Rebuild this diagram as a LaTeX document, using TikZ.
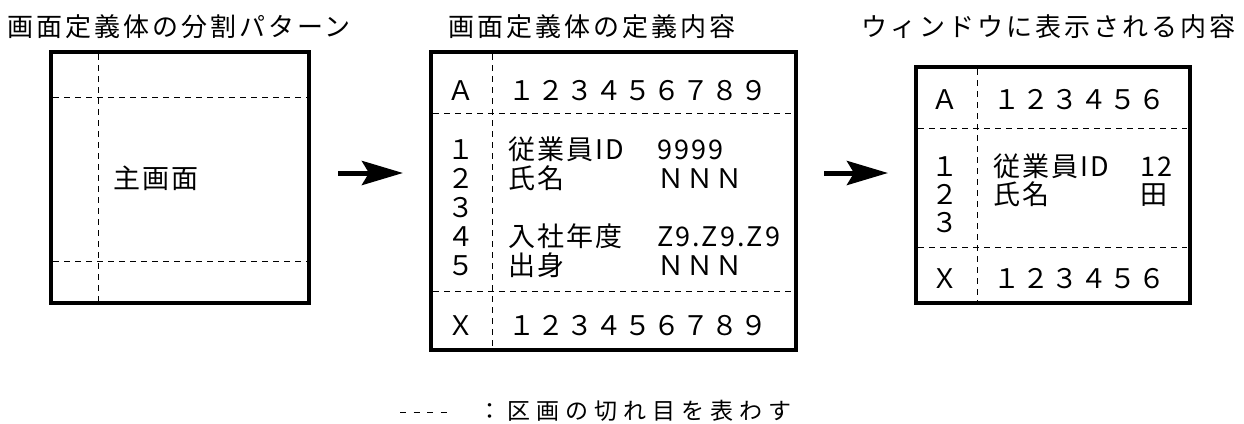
\documentclass[tikz,border=0pt]{standalone}
\usepackage{fontspec}
\usetikzlibrary{arrows.meta}
\newfontfamily\jpt{Noto Sans CJK JP}[LetterSpace=11.5]
\newfontfamily\jpb{Noto Sans CJK JP}[LetterSpace=7.4]
\newfontfamily\jpl{Noto Sans CJK JP}[LetterSpace=26]
\tikzset{
  box/.style={draw, line width=4pt, inner sep=0pt, rectangle},
  sep/.style={draw, line width=1pt, dash pattern=on 6pt off 5pt},
  ttl/.style={inner sep=0pt, anchor=west, font=\jpt\fontsize{26}{30}\selectfont, text height=22.9pt, text depth=3.1pt},
  txt/.style={inner sep=0pt, anchor=west, font=\jpb\fontsize{27}{31}\selectfont, text height=23.8pt, text depth=3.2pt},
  lbl/.style={txt, anchor=center},
  leg/.style={inner sep=0pt, anchor=west, font=\jpl\fontsize{23}{27}\selectfont, text height=20.2pt, text depth=2.8pt},
  arr/.style={line width=5pt, -{Stealth[length=41pt, width=24pt, inset=7pt]}},
}
\begin{document}
\begin{tikzpicture}[x=1pt,y=-1pt]
\useasboundingbox (0,0) rectangle (1244,423);

% titles
\node[ttl] (t1) at (7,27) {画面定義体の分割パターン};
\node[ttl] (t2) at (448,27) {画面定義体の定義内容};
\node[ttl] (t3) at (861,27) {ウィンドウに表示される内容};

% box 1
\node[box, minimum width=258pt, minimum height=251pt] (b1) at (180,177.5) {};
\draw[sep] (98,54) -- (98,301);
\draw[sep] (53,97) -- (307,97);
\draw[sep] (53,261) -- (307,261);
\node[txt] (m1) at (113,178) {主画面};

% box 2
\node[box, minimum width=365pt, minimum height=298pt] (b2) at (613.5,201) {};
\draw[sep] (492,54) -- (492,348);
\draw[sep] (433,113) -- (794,113);
\draw[sep] (433,291) -- (794,291);
\node[lbl] (b2a) at (461,90) {Ａ};
\node[txt] (b2ad) at (508,90) {１２３４５６７８９};
\node[lbl] (b2r1) at (461,149) {１};
\node[lbl] (b2r2) at (461,178) {２};
\node[lbl] (b2r3) at (461,207) {３};
\node[lbl] (b2r4) at (461,236) {４};
\node[lbl] (b2r5) at (461,265) {５};
\node[txt] (b2c1) at (508,149) {従業員ID};
\node[txt] (b2c2) at (508,178) {氏名};
\node[txt] (b2c4) at (508,236) {入社年度};
\node[txt] (b2c5) at (508,265) {出身};
\node[txt] (b2v1) at (657,149) {9999};
\node[txt] (b2v2) at (657,178) {ＮＮＮ};
\node[txt] (b2v4) at (657,236) {Z9.Z9.Z9};
\node[txt] (b2v5) at (657,265) {ＮＮＮ};
\node[lbl] (b2x) at (461,325) {Ｘ};
\node[txt] (b2xd) at (508,325) {１２３４５６７８９};

% box 3
\node[box, minimum width=273.5pt, minimum height=236pt] (b3) at (1052.75,185) {};
\draw[sep] (977,69) -- (977,301);
\draw[sep] (918,128) -- (1187,128);
\draw[sep] (918,247) -- (1187,247);
\node[lbl] (b3a) at (945,99) {Ａ};
\node[txt] (b3ad) at (993,99) {１２３４５６};
\node[lbl] (b3r1) at (945,166) {１};
\node[lbl] (b3r2) at (945,194) {２};
\node[lbl] (b3r3) at (945,222) {３};
\node[txt] (b3c1) at (993,166) {従業員ID};
\node[txt] (b3c2) at (993,194) {氏名};
\node[txt] (b3v1) at (1140,166) {12};
\node[txt] (b3v2) at (1140,194) {田};
\node[lbl] (b3x) at (945,278) {Ｘ};
\node[txt] (b3xd) at (993,278) {１２３４５６};

% arrows
\coordinate (a1s) at (338,173);
\coordinate (a1e) at (403,173);
\draw[arr] (a1s) -- (a1e);
\coordinate (a2s) at (824,173);
\coordinate (a2e) at (888,173);
\draw[arr] (a2s) -- (a2e);

% legend
\coordinate (l1) at (400,412);
\coordinate (l2) at (447,412);
\draw[line width=1pt, dash pattern=on 6pt off 7.5pt] (l1) -- (l2);
\node[leg] (legt) at (478,411) {：区画の切れ目を表わす};
\end{tikzpicture}
\end{document}
